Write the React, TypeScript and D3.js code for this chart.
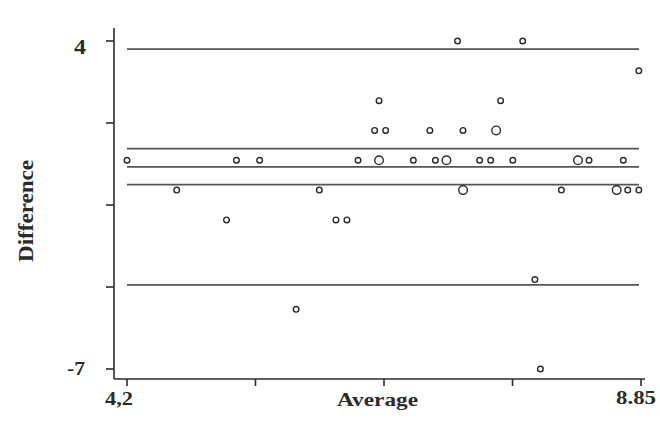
import * as d3 from 'd3';

const width = 660;
const height = 424;

// Bland-Altman style data: average vs difference
const averages = [
  7.19, 7.78,
  8.83,
  6.48, 7.58,
  6.44, 6.54, 6.94, 7.24, 7.54, 7.54,
  4.2, 5.19, 5.4, 6.29, 6.48, 6.48, 6.79, 6.99, 7.09, 7.09, 7.39, 7.49, 7.69, 8.28, 8.28, 8.38, 8.69,
  4.65, 5.94, 7.24, 7.24, 8.13, 8.63, 8.63, 8.73, 8.83,
  5.1, 6.09, 6.19,
  7.89,
  5.73,
  7.94,
];
const differences = [
  4, 4,
  3,
  2, 2,
  1, 1, 1, 1, 1, 1,
  0, 0, 0, 0, 0, 0, 0, 0, 0, 0, 0, 0, 0, 0, 0, 0, 0,
  -1, -1, -1, -1, -1, -1, -1, -1, -1,
  -2, -2, -2,
  -4,
  -5,
  -7,
];

// upper limit, upper CI, mean difference, lower CI, lower limit
const refLines = [3.73, 0.39, -0.22, -0.82, -4.18];
const xTicks = [4.2, 5.3625, 6.525, 7.6875, 8.85];
const xTickLabels = ['4,2', '', '', '', '8.85'];
const yTicks = [4, 1.25, -1.5, -4.25, -7];
const yTickLabels = ['4', '', '', '', '-7'];

const font = '"Liberation Serif", "Times New Roman", serif';
const ink = '#2b2b2b';

export default function App() {
  const x = d3.scaleLinear().domain([4.2, 8.85]).range([127, 641]);
  const y = d3.scaleLinear().domain([-7, 4]).range([369, 41]);

  const axisLeft = 114;
  const axisBottom = 379;
  const axisTop = 28;
  const axisRight = 645;

  // merge duplicated points -> bigger circle
  const counts = d3.rollup(
    averages.map((a, i) => ({ a, d: differences[i] })),
    (v) => v.length,
    (p) => `${p.a}|${p.d}`
  );
  const points = Array.from(counts, ([key, n]) => {
    const [a, d] = key.split('|').map(Number);
    return { a, d, n };
  });

  const labelStyle = {
    fontFamily: font,
    fontWeight: 'bold' as const,
    fill: ink,
  };

  return (
    <svg
      width={width}
      height={height}
      style={{ position: 'absolute', left: 0, top: 0, background: '#fff' }}
    >
      {/* reference lines */}
      {refLines.map((v) => (
        <line
          key={v}
          x1={x(4.2)}
          x2={x(8.85) - 2}
          y1={y(v)}
          y2={y(v)}
          stroke="#555"
          strokeWidth={1.7}
        />
      ))}

      {/* y axis */}
      <line x1={axisLeft} x2={axisLeft} y1={axisTop} y2={axisBottom} stroke={ink} strokeWidth={1.6} />
      {yTicks.map((t, i) => (
        <line key={t} x1={axisLeft - 8} x2={axisLeft} y1={y(t)} y2={y(t)} stroke={ink} strokeWidth={1.6} />
      ))}
      <text x={74} y={54} fontSize={21} textLength={12} lengthAdjust="spacingAndGlyphs" {...labelStyle}>
        {yTickLabels[0]}
      </text>
      <text x={67} y={y(-7) + 6} fontSize={18} textLength={18} lengthAdjust="spacingAndGlyphs" {...labelStyle}>
        {yTickLabels[4]}
      </text>

      {/* x axis */}
      <line x1={axisLeft} x2={axisRight} y1={axisBottom} y2={axisBottom} stroke={ink} strokeWidth={1.6} />
      {xTicks.map((t) => (
        <line key={t} x1={x(t)} x2={x(t)} y1={axisBottom} y2={axisBottom + 7} stroke={ink} strokeWidth={1.6} />
      ))}
      <text x={105} y={405} fontSize={18} textLength={28} lengthAdjust="spacingAndGlyphs" {...labelStyle}>
        {xTickLabels[0]}
      </text>
      <text x={616} y={404} fontSize={18} textLength={40} lengthAdjust="spacingAndGlyphs" {...labelStyle}>
        {xTickLabels[4]}
      </text>

      <text x={337} y={406} fontSize={18} textLength={81} lengthAdjust="spacingAndGlyphs" {...labelStyle}>
        Average
      </text>
      <text
        transform="translate(33, 262) rotate(-90)"
        fontSize={20}
        textLength={102}
        lengthAdjust="spacingAndGlyphs"
        {...labelStyle}
      >
        Difference
      </text>

      {/* points */}
      {points.map((p) => (
        <circle
          key={`${p.a}-${p.d}`}
          cx={x(p.a)}
          cy={y(p.d)}
          r={p.n > 1 ? 4.3 : 2.8}
          fill="#fff"
          stroke={ink}
          strokeWidth={1.4}
        />
      ))}
    </svg>
  );
}
